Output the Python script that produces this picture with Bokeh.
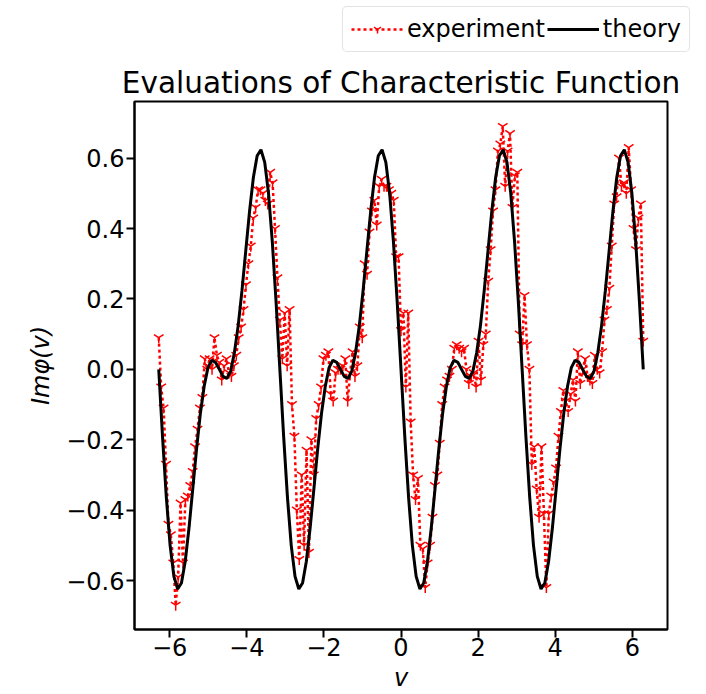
import numpy as np
from bokeh.plotting import figure
from bokeh.layouts import column
from bokeh.models import Range1d, FixedTicker, CustomJSTickFormatter, Legend, LegendItem, Title
from bokeh.embed import file_html
from bokeh.resources import INLINE

# ---- data ----
theory_y = [
    0.000, -0.191, -0.363, -0.500, -0.588, -0.624, -0.607, -0.545, -0.450, -0.338, -0.225, -0.125, -0.048, 0.005, 0.026, 0.020,
    0.000, -0.020, -0.026, -0.005, 0.048, 0.125, 0.225, 0.338, 0.450, 0.545, 0.607, 0.624, 0.588, 0.500, 0.363, 0.191,
    0.000, -0.191, -0.363, -0.500, -0.588, -0.624, -0.607, -0.545, -0.450, -0.338, -0.225, -0.125, -0.048, 0.005, 0.026, 0.020,
    0.000, -0.020, -0.026, -0.005, 0.048, 0.125, 0.225, 0.338, 0.450, 0.545, 0.607, 0.624, 0.588, 0.500, 0.363, 0.191,
    0.000, -0.191, -0.363, -0.500, -0.588, -0.624, -0.607, -0.545, -0.450, -0.338, -0.225, -0.125, -0.048, 0.005, 0.026, 0.020,
    0.000, -0.020, -0.026, -0.005, 0.048, 0.125, 0.225, 0.338, 0.450, 0.545, 0.607, 0.624, 0.588, 0.500, 0.363, 0.191,
    0.000, -0.191, -0.363, -0.500, -0.588, -0.624, -0.607, -0.545, -0.450, -0.338, -0.225, -0.125, -0.048, 0.005, 0.026, 0.020,
    0.000, -0.020, -0.026, -0.005, 0.048, 0.125, 0.225, 0.338, 0.450, 0.545, 0.607, 0.624, 0.588, 0.500, 0.363, 0.191,
    0.000,
]

experiment_y = [
    0.09, -0.05, -0.11, -0.27, -0.44, -0.47, -0.55, -0.67, -0.59, -0.38,
    -0.55, -0.37, -0.36, -0.33, -0.29, -0.22, -0.17, -0.11, -0.08, 0.03,
    0.00, 0.03, 0.00, 0.09, 0.04, 0.02, -0.03, 0.01, 0.03, -0.01,
    -0.02, 0.01, 0.04, 0.09, 0.12, 0.17, 0.24, 0.30, 0.35, 0.43,
    0.46, 0.51, 0.51, 0.50, 0.48, 0.47, 0.56, 0.53, 0.40, 0.26,
    0.14, 0.03, 0.16, 0.01, 0.17, -0.10, -0.19, -0.40, -0.54, -0.30,
    -0.50, -0.23, -0.52, -0.20, -0.30, -0.14, -0.10, -0.05, 0.03, 0.04,
    0.05, -0.07, -0.09, -0.01, 0.00, 0.00, 0.01, 0.03, -0.09, -0.01,
    0.05, -0.02, 0.01, 0.12, 0.09, 0.30, 0.27, 0.39, 0.45, 0.48,
    0.41, 0.52, 0.54, 0.52, 0.52, 0.51, 0.50, 0.48, 0.32, 0.32,
    0.11, 0.16, -0.05, 0.16, -0.15, -0.30, -0.37, -0.31, -0.50, -0.51,
    -0.62, -0.55, -0.50, -0.42, -0.33, -0.30, -0.21, -0.10, -0.05, -0.03,
    -0.02, 0.00, 0.06, 0.07, 0.06, 0.05, 0.06, 0.00, -0.04, -0.02,
    -0.01, -0.05, 0.08, -0.03, 0.07, 0.10, 0.25, 0.34, 0.45, 0.51,
    0.62, 0.64, 0.69, 0.52, 0.62, 0.67, 0.46, 0.55, 0.56, 0.10,
    0.07, 0.21, 0.07, 0.00, -0.27, -0.22, -0.34, -0.42, -0.22, -0.41,
    -0.62, -0.41, -0.36, -0.32, -0.28, -0.19, -0.12, -0.06, -0.09, -0.12,
    -0.07, -0.03, -0.09, 0.05, -0.04, 0.00, 0.03, -0.02, -0.03, -0.04,
    0.04, 0.00, -0.01, 0.05, 0.14, 0.17, 0.23, 0.35, 0.47, 0.49,
    0.60, 0.52, 0.53, 0.50, 0.63, 0.51, 0.40, 0.34, 0.43, 0.47,
    0.08,
]

theory_x = np.linspace(-2 * np.pi, 2 * np.pi, len(theory_y))
experiment_x = np.linspace(-2 * np.pi, 2 * np.pi, len(experiment_y))

x_ticks = [-6, -4, -2, 0, 2, 4, 6]
y_ticks = [-0.6, -0.4, -0.2, 0.0, 0.2, 0.4, 0.6]

title_text = "Evaluations of Characteristic Function"
series_labels = ["experiment", "theory"]

FONT = "DejaVu Sans"
EXP_LINE = dict(line_color="red", line_width=2.5, line_dash="3 3")
EXP_MARK = dict(marker="y", size=11, line_color="red", line_width=1.5)
TH_LINE = dict(line_color="black", line_width=3)

# ---------------- legend strip (above the main plot) ----------------
# its ranges lie far away from the data, so the proxy renderers draw nothing
leg_fig = figure(
    width=704, height=54, x_range=Range1d(1000, 1001), y_range=Range1d(1000, 1001),
    output_backend="svg", toolbar_location=None,
    x_axis_location=None, y_axis_location=None,
    min_border_left=0, min_border_right=0, min_border_top=0, min_border_bottom=0,
)
leg_fig.frame_align = False
leg_fig.outline_line_color = None
leg_fig.xgrid.visible = False
leg_fig.ygrid.visible = False
leg_fig.background_fill_color = "white"
leg_fig.border_fill_color = "white"

l_exp_line = leg_fig.line(experiment_x, experiment_y, **EXP_LINE)
l_exp_pts = leg_fig.scatter(experiment_x, experiment_y, **EXP_MARK)
l_th = leg_fig.line(theory_x, theory_y, **TH_LINE)

legend = Legend(
    items=[
        LegendItem(label=series_labels[0], renderers=[l_exp_line, l_exp_pts]),
        LegendItem(label=series_labels[1], renderers=[l_th]),
    ],
    orientation="horizontal",
    location=(342, 2),
    label_text_font=FONT,
    label_text_font_size="24px",
    label_text_color="black",
    glyph_width=52,
    label_standoff=4,
    spacing=2,
    padding=8,
    margin=0,
    border_line_color="#c8c8c8",
    border_line_width=1.5,
    background_fill_color="white",
    background_fill_alpha=1.0,
)
try:
    legend.border_radius = 5
except Exception:
    pass
leg_fig.add_layout(legend)

# ---------------- main plot ----------------
p = figure(
    width=704, height=640,
    x_range=Range1d(-6.912, 6.912), y_range=Range1d(-0.739, 0.761),
    output_backend="svg", toolbar_location=None,
    min_border_left=134, min_border_right=37, min_border_top=47, min_border_bottom=62,
    title=None,
)
p.frame_align = False
p.background_fill_color = "white"
p.border_fill_color = "white"
p.outline_line_color = "black"
p.outline_line_width = 2
p.xgrid.visible = False
p.ygrid.visible = False

r_exp_line = p.line(experiment_x, experiment_y, **EXP_LINE)
r_exp_pts = p.scatter(experiment_x, experiment_y, **EXP_MARK)
r_th = p.line(theory_x, theory_y, **TH_LINE)

for ax in (p.xaxis[0], p.yaxis[0]):
    ax.major_label_text_font = FONT
    ax.major_label_text_font_size = "24px"
    ax.major_label_text_color = "black"
    ax.axis_label_text_font = FONT
    ax.axis_label_text_font_size = "24px"
    ax.axis_label_text_font_style = "italic"
    ax.axis_label_text_color = "black"
    ax.major_tick_out = 8
    ax.major_tick_in = 0
    ax.minor_tick_out = 0
    ax.minor_tick_in = 0
    ax.major_tick_line_width = 2
    ax.axis_line_width = 2
    ax.major_label_standoff = 2

p.xaxis.ticker = FixedTicker(ticks=x_ticks)
p.yaxis.ticker = FixedTicker(ticks=y_ticks)
p.xaxis.formatter = CustomJSTickFormatter(code="return (tick < 0 ? '\u2212' : '') + Math.abs(tick).toFixed(0);")
p.yaxis.formatter = CustomJSTickFormatter(code="return (tick < -1e-9 ? '\u2212' : '') + Math.abs(tick).toFixed(1);")
p.xaxis.axis_label = "v"
p.yaxis.axis_label = "Im\u03c6(v)"
p.xaxis.major_label_standoff = 0
p.xaxis.axis_label_standoff = 5
p.yaxis.axis_label_standoff = 8

title = Title(text=title_text, align="center", text_font=FONT, text_font_size="29.5px",
              text_font_style="normal", text_color="black", standoff=3)
p.add_layout(title, "above")

layout = column(leg_fig, p, spacing=0)

open("out.html", "w").write(file_html(layout, INLINE))
